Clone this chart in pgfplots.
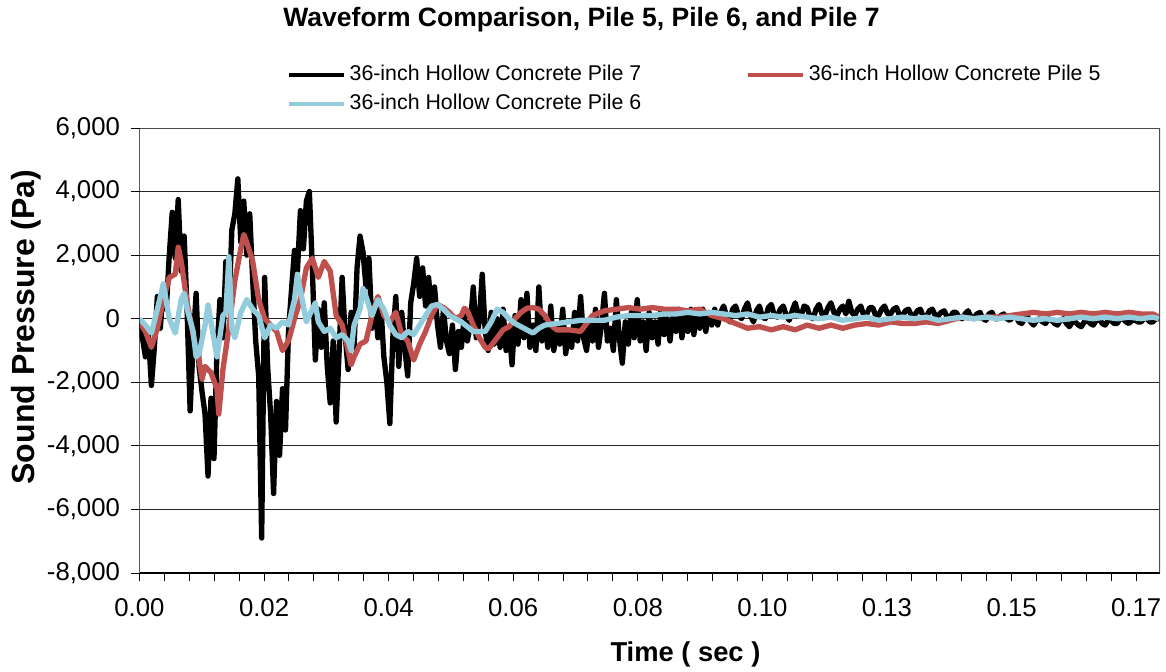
\documentclass[border=0pt]{standalone}
\usepackage{fontspec}
\setmainfont{Liberation Sans}
\usepackage{pgfplots}
\pgfplotsset{compat=1.18}
\usepackage{pgfplotstable}
\definecolor{pred}{RGB}{192,80,77}
\definecolor{pblue}{RGB}{147,205,221}

\pgfplotstableread[row sep=\\]{
t p\\
0 -100\\ 0.0005 -600\\ 0.001 -1200\\ 0.0015 -500\\ 0.002 -2100\\ 0.0025 -900\\ 0.003 700\\ 0.0035 -300\\
0.004 1000\\ 0.0045 300\\ 0.005 2000\\ 0.0055 3350\\ 0.006 1900\\ 0.0065 3750\\ 0.007 1500\\ 0.0075 2600\\
0.008 200\\ 0.0085 -2900\\ 0.009 -800\\ 0.0095 800\\ 0.01 -1500\\ 0.0105 -2300\\ 0.011 -3000\\ 0.0115 -4950\\
0.012 -2500\\ 0.0125 -4400\\ 0.013 -1000\\ 0.0135 600\\ 0.014 -600\\ 0.0145 1800\\ 0.015 300\\ 0.0155 2800\\
0.016 3300\\ 0.0165 4400\\ 0.017 2400\\ 0.0175 3700\\ 0.018 2000\\ 0.0185 3300\\ 0.019 1200\\ 0.0195 -700\\
0.02 -1800\\ 0.0205 -6900\\ 0.021 1300\\ 0.0215 -1500\\ 0.022 -3000\\ 0.0225 -5500\\ 0.023 -2600\\ 0.0235 -4300\\
0.024 -2200\\ 0.0245 -3500\\ 0.025 -400\\ 0.0255 900\\ 0.026 2150\\ 0.0265 1500\\ 0.027 3400\\ 0.0275 2200\\
0.028 3700\\ 0.0285 4000\\ 0.029 1600\\ 0.0295 -1300\\ 0.03 300\\ 0.0305 -900\\ 0.031 500\\ 0.0315 -1500\\
0.032 -2650\\ 0.0325 -700\\ 0.033 -3250\\ 0.0335 -1000\\ 0.034 1300\\ 0.0345 -500\\ 0.035 -1600\\ 0.0355 200\\
0.036 -900\\ 0.0365 1600\\ 0.037 2600\\ 0.0375 2100\\ 0.038 1000\\ 0.0385 1900\\ 0.039 -300\\ 0.0395 500\\
0.04 -600\\ 0.0405 400\\ 0.041 -1200\\ 0.0415 -2000\\ 0.042 -3300\\ 0.0425 -600\\ 0.043 700\\ 0.0435 -1500\\
0.044 200\\ 0.0445 -900\\ 0.045 -1800\\ 0.0455 500\\ 0.046 1100\\ 0.0465 1900\\ 0.047 700\\ 0.0475 1600\\
0.048 400\\ 0.0485 1300\\ 0.049 200\\ 0.0495 1000\\
0.05 -200\\ 0.0505 -900\\ 0.051 300\\ 0.0515 -700\\ 0.052 -1100\\ 0.0525 -200\\ 0.053 -1600\\ 0.0535 -400\\
0.054 -900\\ 0.0545 100\\ 0.055 -700\\ 0.0555 -200\\ 0.056 1000\\ 0.0565 -600\\ 0.057 -100\\ 0.0575 1400\\
0.058 -400\\ 0.0585 -1000\\ 0.059 200\\ 0.0595 -800\\ 0.06 0\\ 0.0605 -900\\ 0.061 300\\ 0.0615 -1000\\
0.062 -300\\ 0.0625 -1450\\ 0.063 100\\ 0.0635 -800\\ 0.064 600\\ 0.0645 -600\\ 0.065 800\\ 0.0655 -900\\
0.066 -200\\ 0.0665 -1000\\ 0.067 1000\\ 0.0675 -700\\ 0.068 -100\\ 0.0685 -900\\ 0.069 400\\ 0.0695 -1000\\
0.07 -300\\ 0.0705 -800\\ 0.071 300\\ 0.0715 -1100\\ 0.072 -400\\ 0.0725 -900\\ 0.073 200\\ 0.0735 -700\\
0.074 700\\ 0.0745 -600\\ 0.075 -1000\\ 0.0755 -100\\ 0.076 -700\\ 0.0765 300\\ 0.077 -900\\ 0.0775 -200\\
0.078 800\\ 0.0785 -700\\ 0.079 -300\\ 0.0795 -1000\\ 0.08 600\\ 0.0805 -600\\ 0.081 -1400\\ 0.0815 -100\\
0.082 -800\\ 0.0825 200\\ 0.083 -600\\ 0.0835 600\\ 0.084 -700\\ 0.0845 -100\\ 0.085 -1000\\ 0.0855 200\\
0.086 -600\\ 0.0865 -100\\ 0.087 -800\\ 0.0875 300\\ 0.088 -500\\ 0.0885 0\\ 0.089 -700\\ 0.0895 200\\
0.09 -400\\ 0.0905 300\\ 0.091 -600\\ 0.0915 100\\ 0.092 -400\\ 0.0925 300\\ 0.093 -500\\ 0.0935 200\\
0.094 -300\\ 0.0945 300\\ 0.095 -400\\ 0.0955 200\\ 0.096 -200\\ 0.0965 300\\ 0.097 -200\\ 0.0975 200\\
0.098 400\\ 0.0985 50\\ 0.099 -100\\ 0.0995 300\\ 0.1 400\\ 0.1005 100\\ 0.101 0\\ 0.1015 300\\
0.102 500\\ 0.1025 100\\ 0.103 -100\\ 0.1035 250\\ 0.104 400\\ 0.1045 50\\ 0.105 0\\ 0.1055 350\\
0.106 450\\ 0.1065 100\\ 0.107 50\\ 0.1075 300\\ 0.108 400\\ 0.1085 100\\ 0.109 -50\\ 0.1095 250\\
0.11 500\\ 0.1105 150\\ 0.111 100\\ 0.1115 400\\ 0.112 350\\ 0.1125 50\\ 0.113 0\\ 0.1135 300\\
0.114 450\\ 0.1145 150\\ 0.115 100\\ 0.1155 350\\ 0.116 500\\ 0.1165 200\\ 0.117 100\\ 0.1175 300\\
0.118 400\\ 0.1185 150\\ 0.119 550\\ 0.1195 200\\ 0.12 100\\ 0.1205 300\\ 0.121 400\\ 0.1215 100\\
0.122 150\\ 0.1225 350\\ 0.123 350\\ 0.1235 100\\ 0.124 100\\ 0.1245 300\\ 0.125 400\\ 0.1255 150\\
0.126 150\\ 0.1265 300\\ 0.127 350\\ 0.1275 100\\ 0.128 100\\ 0.1285 250\\ 0.129 300\\ 0.1295 100\\
0.13 100\\ 0.1305 250\\ 0.131 300\\ 0.1315 50\\ 0.132 50\\ 0.1325 250\\ 0.133 300\\ 0.1335 100\\
0.134 100\\ 0.1345 200\\ 0.135 250\\ 0.1355 50\\ 0.136 50\\ 0.1365 200\\ 0.137 200\\ 0.1375 50\\
0.138 0\\ 0.1385 150\\ 0.139 250\\ 0.1395 50\\ 0.14 50\\ 0.1405 150\\ 0.141 200\\ 0.1415 0\\
0.142 -50\\ 0.1425 150\\ 0.143 200\\ 0.1435 0\\ 0.144 0\\ 0.1445 100\\ 0.145 150\\ 0.1455 0\\
0.146 -50\\ 0.1465 50\\ 0.147 100\\ 0.1475 -100\\ 0.148 -150\\ 0.1485 0\\ 0.149 50\\ 0.1495 -100\\
0.15 -200\\ 0.1505 -50\\ 0.151 0\\ 0.1515 -100\\ 0.152 -150\\ 0.1525 0\\ 0.153 -50\\ 0.1535 -150\\
0.154 -200\\ 0.1545 -50\\ 0.155 0\\ 0.1555 -150\\ 0.156 -250\\ 0.1565 -100\\ 0.157 -100\\ 0.1575 -200\\
0.158 -250\\ 0.1585 -100\\ 0.159 -50\\ 0.1595 -150\\ 0.16 -200\\ 0.1605 -50\\ 0.161 0\\ 0.1615 -150\\
0.162 -200\\ 0.1625 -50\\ 0.163 -50\\ 0.1635 -150\\ 0.164 -150\\ 0.1645 0\\ 0.165 0\\ 0.1655 -100\\
0.166 -150\\ 0.1665 -50\\ 0.167 -50\\ 0.1675 -100\\ 0.168 -100\\ 0.1685 0\\ 0.169 0\\ 0.1695 -100\\
0.17 -100\\ 0.1705 0\\ 0.171 0\\
}\pileseven

\pgfplotstableread[row sep=\\]{
t p\\
0 -100\\ 0.001 -400\\ 0.002 -900\\ 0.003 -300\\ 0.004 600\\ 0.005 1300\\ 0.006 1400\\ 0.0065 2250\\
0.007 1800\\ 0.008 500\\ 0.009 -500\\ 0.01 -1300\\ 0.0105 -1900\\ 0.011 -1500\\ 0.012 -1700\\ 0.013 -2200\\
0.0133 -3000\\ 0.014 -1600\\ 0.015 -300\\ 0.016 1200\\ 0.017 2200\\ 0.0175 2650\\ 0.018 2400\\ 0.019 1800\\
0.02 600\\ 0.021 0\\ 0.022 -200\\ 0.023 -400\\ 0.024 -1000\\ 0.025 -700\\ 0.026 0\\ 0.027 600\\
0.028 1600\\ 0.029 1900\\ 0.03 1300\\ 0.031 1800\\ 0.032 1500\\ 0.033 100\\ 0.034 -200\\ 0.035 -1000\\
0.0355 -1450\\ 0.036 -1200\\ 0.037 -800\\ 0.038 -700\\ 0.039 100\\ 0.04 700\\ 0.041 100\\ 0.042 -100\\
0.043 200\\ 0.044 -500\\ 0.045 -700\\ 0.046 -1300\\ 0.047 -800\\ 0.048 -400\\ 0.049 100\\ 0.05 450\\
0.051 350\\ 0.052 200\\ 0.053 0\\ 0.054 100\\ 0.0545 330\\ 0.055 250\\ 0.056 -200\\ 0.057 -600\\
0.058 -900\\ 0.0585 -950\\ 0.059 -850\\ 0.06 -600\\ 0.061 -350\\ 0.062 -250\\ 0.063 0\\ 0.064 200\\
0.065 330\\ 0.066 350\\ 0.067 300\\ 0.068 100\\ 0.069 -200\\ 0.07 -350\\ 0.072 -350\\ 0.074 -400\\
0.076 100\\ 0.078 250\\ 0.08 300\\ 0.082 350\\ 0.084 300\\ 0.086 350\\ 0.088 300\\ 0.09 300\\
0.092 250\\ 0.094 300\\ 0.096 100\\ 0.098 0\\ 0.1 -150\\ 0.102 -300\\ 0.104 -250\\ 0.106 -350\\
0.108 -250\\ 0.11 -350\\ 0.112 -200\\ 0.114 -300\\ 0.116 -200\\ 0.118 -300\\ 0.12 -200\\ 0.122 -150\\
0.124 -200\\ 0.126 -100\\ 0.128 -150\\ 0.13 -150\\ 0.132 -100\\ 0.134 -150\\ 0.136 -50\\ 0.138 50\\
0.14 0\\ 0.142 50\\ 0.144 50\\ 0.146 100\\ 0.148 150\\ 0.15 200\\ 0.152 150\\ 0.154 200\\
0.156 150\\ 0.158 200\\ 0.16 150\\ 0.162 200\\ 0.164 150\\ 0.166 200\\ 0.168 150\\ 0.17 150\\ 0.171 50\\
}\pilefive

\pgfplotstableread[row sep=\\]{
t p\\
0 0\\ 0.001 -200\\ 0.002 -450\\ 0.003 300\\ 0.004 1100\\ 0.005 0\\ 0.006 -450\\ 0.007 600\\
0.0075 800\\ 0.008 300\\ 0.009 -400\\ 0.0095 -1200\\ 0.01 -1100\\ 0.011 -200\\ 0.0115 430\\ 0.012 -100\\
0.013 -1200\\ 0.014 100\\ 0.0145 200\\ 0.015 1950\\ 0.0155 -300\\ 0.016 -600\\ 0.017 200\\ 0.018 600\\
0.019 300\\ 0.02 100\\ 0.021 -600\\ 0.022 -200\\ 0.023 -300\\ 0.024 -100\\ 0.025 -200\\ 0.026 600\\
0.0265 1400\\ 0.027 900\\ 0.028 -100\\ 0.029 300\\ 0.0295 500\\ 0.03 -100\\ 0.031 -400\\ 0.032 -300\\
0.033 -600\\ 0.034 -500\\ 0.035 -700\\ 0.0355 -1000\\ 0.036 -200\\ 0.037 300\\ 0.0375 950\\ 0.038 700\\
0.039 100\\ 0.04 600\\ 0.041 300\\ 0.042 -200\\ 0.043 -500\\ 0.044 -600\\ 0.045 -400\\ 0.046 -500\\
0.047 -200\\ 0.048 100\\ 0.049 400\\ 0.05 450\\ 0.051 300\\ 0.052 100\\ 0.053 0\\ 0.054 -100\\
0.055 -250\\ 0.056 -400\\ 0.057 -400\\ 0.058 -400\\ 0.059 -100\\ 0.06 300\\ 0.061 200\\ 0.062 0\\
0.063 -150\\ 0.064 -250\\ 0.065 -350\\ 0.066 -450\\ 0.067 -300\\ 0.068 -200\\ 0.07 -150\\ 0.072 -100\\
0.074 -50\\ 0.076 -50\\ 0.078 -50\\ 0.08 50\\ 0.082 100\\ 0.084 100\\ 0.086 100\\ 0.088 150\\
0.09 150\\ 0.092 200\\ 0.094 150\\ 0.096 200\\ 0.098 150\\ 0.1 100\\ 0.102 150\\ 0.104 50\\
0.106 100\\ 0.108 50\\ 0.11 100\\ 0.112 50\\ 0.114 0\\ 0.116 50\\ 0.118 -50\\ 0.12 0\\
0.122 50\\ 0.124 -50\\ 0.126 0\\ 0.128 50\\ 0.13 0\\ 0.132 50\\ 0.134 -50\\ 0.136 0\\
0.138 50\\ 0.14 0\\ 0.142 50\\ 0.144 0\\ 0.146 50\\ 0.148 0\\ 0.15 -50\\ 0.152 0\\
0.154 -50\\ 0.156 0\\ 0.158 50\\ 0.16 0\\ 0.162 50\\ 0.164 0\\ 0.166 50\\ 0.168 0\\
0.17 50\\ 0.171 0\\
}\pilesix

\begin{document}
\begin{tikzpicture}
\begin{axis}[
  at={(0pt,0pt)}, anchor=south west,
  scale only axis, width=765.4pt, height=333.75pt,
  xmin=0, xmax=0.1712, ymin=-8000, ymax=6000,
  axis line style={draw=none},
  xtick={0,0.0209,0.0418,0.0627,0.0836,0.1045,0.1254,0.1463,0.1672},
  xticklabels={0.00,0.02,0.04,0.06,0.08,0.10,0.13,0.15,0.17},
  minor x tick num=4,
  ytick={-8000,-6000,-4000,-2000,0,2000,4000,6000},
  yticklabels={{-8,000},{-6,000},{-4,000},{-2,000},{0},{2,000},{4,000},{6,000}},
  ymajorgrids, major grid style={black!85, line width=0.75pt},
  tick align=outside, major tick length=6.2pt, minor tick length=6.2pt,
  tick style={black, line width=0.75pt},
  xtick pos=left, ytick pos=left,
  ticklabel style={font=\fontsize{19.3}{23}\selectfont, inner sep=0pt},
  xticklabel style={anchor=north, yshift=-12.75pt},
  yticklabel style={anchor=east, xshift=-8.25pt},
  legend columns=2,
  legend cell align=left,
  legend image code/.code={\draw[#1, line width=2.8pt] (0pt,0pt) -- (41.25pt,0pt);},
  legend style={at={(axis description cs:0.1445,1.1416)}, anchor=north west,
    draw=none, fill=none, inner sep=0pt, outer sep=0pt,
    font=\fontsize{16}{19}\selectfont,
    nodes={inner sep=0pt, text height=11.5pt, text depth=3.5pt},
    column sep=3pt, row sep=7pt,
    /tikz/every even column/.append style={column sep=78.5pt}},
]
\addplot[black, line width=4pt, line join=round] table[x=t, y=p] {\pileseven};
\addlegendentry{36-inch Hollow Concrete Pile 7}
\addplot[pred, line width=4pt, line join=round] table[x=t, y=p] {\pilefive};
\addlegendentry{36-inch Hollow Concrete Pile 5}
\addplot[pblue, line width=4pt, line join=round] table[x=t, y=p] {\pilesix};
\addlegendentry{36-inch Hollow Concrete Pile 6}
\draw[gray!60!black, line width=1.1pt] (rel axis cs:0,1) -- (rel axis cs:1,1) -- (rel axis cs:1,0);
\draw[black, line width=1pt] (rel axis cs:0,1) -- (rel axis cs:0,0) -- (rel axis cs:1,0);
\end{axis}
\node[anchor=base, font=\bfseries\fontsize{19.9}{24}\selectfont] at (331.5pt,409.5pt) {Waveform Comparison, Pile 5, Pile 6, and Pile 7};
\node[anchor=base, font=\bfseries\fontsize{20.5}{24}\selectfont] at (409.5pt,-66pt) {Time ( sec )};
\node[anchor=base, rotate=90, font=\bfseries\fontsize{24}{28}\selectfont] at (-78.4pt,184.5pt) {Sound Pressure (Pa)};
\pgfresetboundingbox
\path[use as bounding box] (-104.6pt,-73.5pt) rectangle (769.9pt,429.75pt);
\end{tikzpicture}
\end{document}
